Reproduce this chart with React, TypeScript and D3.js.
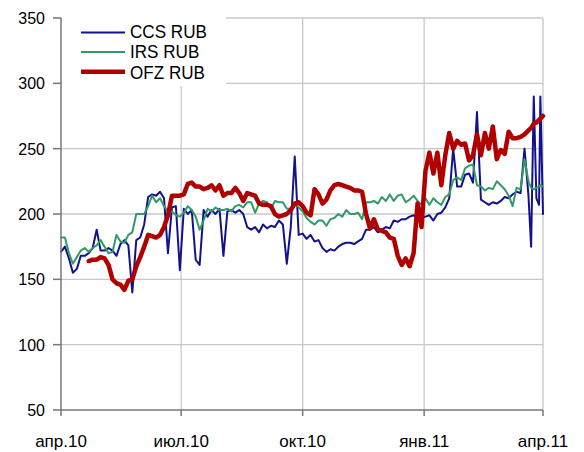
import React from "react";
import * as d3 from "d3";

// x grid: day offsets from 1 Apr 2010
const DAYS: number[] = [...d3.range(0, 352, 3), 354, 356, 358, 360, 362, 363, 365];

const CCS: number[] = [
  171, 175, 166, 155, 158, 168, 168, 170, 174, 188, 172, 172, 174, 172, 168, 177, 180, 176, 140, 180,
  182, 192, 213, 215, 214, 217, 212, 170, 205, 206, 157, 204, 200, 203, 165, 161, 203, 198, 203, 200,
  204, 168, 202, 203, 201, 203, 200, 190, 188, 190, 186, 192, 189, 191, 190, 195, 192, 162, 190, 244,
  184, 185, 181, 184, 179, 180, 174, 171, 173, 172, 175, 177, 178, 178, 177, 179, 181, 188, 188, 190,
  186, 188, 190, 189, 195, 194, 196, 196, 198, 199, 197, 197, 198, 199, 195, 200, 201, 205, 212, 250,
  221, 221, 230, 231, 224, 278, 211, 209, 207, 209, 208, 210, 213, 212, 215, 217, 216, 250,
  214, 175, 290, 212, 207, 290, 200,
];

const IRS: number[] = [
  182, 182, 170, 162, 167, 172, 174, 171, 174, 176, 180, 175, 170, 171, 184, 179, 178, 184, 186, 200,
  200, 200, 206, 214, 209, 212, 206, 202, 202, 199, 198, 201, 206, 203, 198, 188, 195, 204, 202, 205,
  203, 203, 204, 202, 206, 207, 205, 209, 209, 201, 208, 210, 209, 204, 210, 209, 209, 204, 204, 209,
  205, 202, 197, 194, 192, 195, 195, 191, 196, 197, 200, 198, 203, 200, 200, 201, 196, 209, 209, 210,
  208, 213, 210, 215, 210, 214, 215, 209, 211, 214, 210, 207, 212, 207, 212, 209, 207, 213, 215, 226,
  228, 226, 235, 237, 238, 222, 221, 218, 220, 219, 225, 222, 219, 214, 206, 220, 219, 242,
  225, 220, 219, 220, 221, 222, 221,
];

const OFZ: (number | null)[] = [
  null, null, null, null, null, null, null, 164, 165, 165, 167, 166, 161, 150, 147, 146, 142, 149, 150, 160,
  167, 175, 184, 183, 182, 184, 190, 199, 214, 214, 214, 215, 223, 224, 221, 221, 219, 220, 222, 218,
  222, 214, 216, 216, 220, 216, 210, 216, 215, 214, 208, 207, 207, 206, 200, 198, 199, 200, 203, 208,
  209, 206, 201, 199, 219, 215, 208, 211, 218, 222, 223, 222, 221, 220, 218, 218, 217, 200, 189, 196,
  188, 187, 186, 182, 181, 168, 161, 166, 160, 170, 208, 190, 233, 247, 231, 247, 222, 245, 262, 250,
  256, 253, 254, 241, 245, 261, 245, 262, 250, 267, 242, 249, 246, 263, 258, 258, 259, 261,
  264, 266, 269, 270, 272, 273, 275,
];

const Y_TICKS = [50, 100, 150, 200, 250, 300, 350];
const X_TICKS: [number, number, string][] = [
  [2010, 3, "апр.10"],
  [2010, 6, "июл.10"],
  [2010, 9, "окт.10"],
  [2011, 0, "янв.11"],
  [2011, 3, "апр.11"],
];

const SERIES = [
  { name: "CCS RUB", values: CCS as (number | null)[], color: "#12128c", width: 2 },
  { name: "IRS RUB", values: IRS as (number | null)[], color: "#339966", width: 2 },
  { name: "OFZ RUB", values: OFZ, color: "#b00000", width: 4.5 },
];

const START = Date.UTC(2010, 3, 1);
const DAY = 864e5;

export default function App() {
  const x = d3
    .scaleUtc()
    .domain([new Date(Date.UTC(2010, 3, 1)), new Date(Date.UTC(2011, 3, 1))])
    .range([61, 543]);
  const y = d3.scaleLinear().domain([50, 350]).range([410, 18]);
  const font = "'Liberation Sans', Arial, sans-serif";

  const line = (vals: (number | null)[]) =>
    d3
      .line<number>()
      .defined((_, i) => vals[i] != null)
      .x((d) => x(new Date(START + d * DAY)))
      .y((_, i) => y(vals[i] as number))(DAYS) || "";

  const [x0, x1] = x.range();
  const [yb, yt] = y.range();

  return (
    <svg
      width={584}
      height={452}
      style={{ position: "absolute", left: 0, top: 0, background: "#fff" }}
      fontFamily={font}
    >
      {/* grid */}
      {Y_TICKS.filter((t) => t !== 50).map((t) => (
        <line key={"gy" + t} x1={x0} x2={x1} y1={y(t)} y2={y(t)} stroke="#c8c8c8" strokeWidth={1.3} />
      ))}
      {X_TICKS.slice(1).map(([yr, m]) => {
        const px = x(new Date(Date.UTC(yr, m, 1)));
        return <line key={"gx" + yr + m} x1={px} x2={px} y1={yt} y2={yb} stroke="#c8c8c8" strokeWidth={1.3} />;
      })}

      {/* series */}
      {SERIES.map((s) => (
        <path
          key={s.name}
          d={line(s.values)}
          fill="none"
          stroke={s.color}
          strokeWidth={s.width}
          strokeLinejoin="round"
          strokeLinecap="round"
        />
      ))}

      {/* legend */}
      <rect x={62} y={10} width={164} height={76} fill="#fff" />
      {SERIES.map((s, i) => (
        <g key={"lg" + s.name}>
          <line
            x1={81}
            x2={125}
            y1={32.5 + i * 19.6}
            y2={32.5 + i * 19.6}
            stroke={s.color}
            strokeWidth={s.width}
          />
          <text
            transform={`translate(130, ${38 + i * 20.3}) scale(0.95, 1)`}
            fontSize={18}
            fill="#000"
          >
            {s.name}
          </text>
        </g>
      ))}

      {/* axes */}
      <line x1={x0} x2={x0} y1={yt} y2={yb} stroke="#777" strokeWidth={1.5} />
      <line x1={x0} x2={x1} y1={yb} y2={yb} stroke="#777" strokeWidth={1.5} />
      {Y_TICKS.map((t) => (
        <g key={"yt" + t}>
          <line x1={53} x2={x0} y1={y(t)} y2={y(t)} stroke="#777" strokeWidth={1.5} />
          <text x={45} y={y(t) + 6} textAnchor="end" fontSize={16} fill="#000">
            {t}
          </text>
        </g>
      ))}
      {X_TICKS.map(([yr, m, label]) => {
        const px = x(new Date(Date.UTC(yr, m, 1)));
        return (
          <g key={"xt" + label}>
            <line x1={px} x2={px} y1={yb} y2={yb + 6} stroke="#777" strokeWidth={1.5} />
            <text x={px} y={447} textAnchor="middle" fontSize={17} fill="#000">
              {label}
            </text>
          </g>
        );
      })}
    </svg>
  );
}
